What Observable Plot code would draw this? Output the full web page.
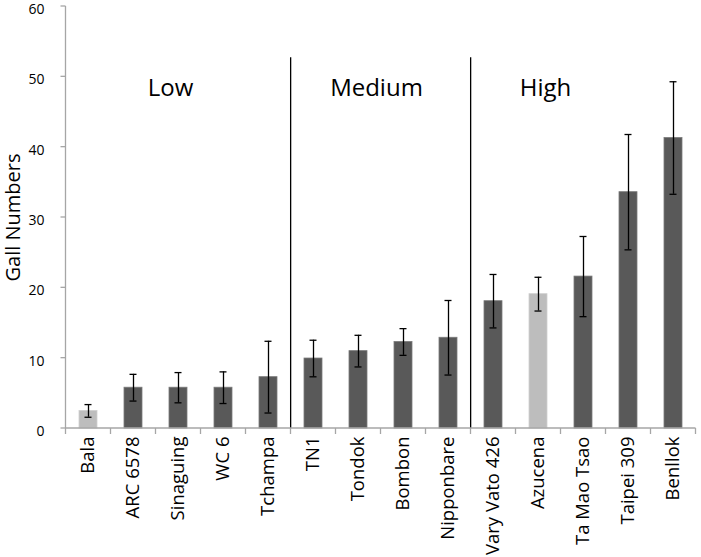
<!DOCTYPE html>
<html>
<head>
<meta charset="utf-8">
<script src="https://cdn.jsdelivr.net/npm/d3@7"></script>
<script src="https://cdn.jsdelivr.net/npm/@observablehq/plot@0.6"></script>
<style>
  html, body { margin: 0; padding: 0; background: #fff; }
  #chart svg { display: block; }
</style>
</head>
<body>
<div id="chart"></div>
<script>
const varieties = ["Bala", "ARC 6578", "Sinaguing", "WC 6", "Tchampa", "TN1", "Tondok", "Bombon", "Nipponbare", "Vary Vato 426", "Azucena", "Ta Mao Tsao", "Taipei 309", "Benllok"];
const gallMeans = [2.5, 5.8, 5.8, 5.8, 7.3, 9.95, 11.0, 12.3, 12.9, 18.1, 19.1, 21.6, 33.6, 41.3];
const gallErrors = [0.9, 1.9, 2.15, 2.25, 5.1, 2.6, 2.25, 1.9, 5.3, 3.8, 2.4, 5.7, 8.2, 8.0];
const highlighted = ["Bala", "Azucena"];
const groupNames = ["Low", "Medium", "High"];
const groupFirst = ["Bala", "TN1", "Vary Vato 426"];
const groupLabelAt = ["Sinaguing", "Tondok", "Azucena"];
const yTicks = [0, 10, 20, 30, 40, 50, 60];
const separatorTop = 52.7;
const groupLabelY = 48.3;

const data = varieties.map((name, i) => ({name, mean: gallMeans[i], err: gallErrors[i]}));
const separators = groupFirst.slice(1);

const axisColor = "#a6a6a6";

function frameAxes(index, scales, values, dims) {
  const x = scales.x;
  const step = x(varieties[1]) - x(varieties[0]);
  const bw = typeof x.bandwidth === "function" ? x.bandwidth() : step * 0.4;
  const gap = (step - bw) / 2;
  const y0 = scales.y(0);
  const yTop = scales.y(60);
  const g = d3.create("svg:g").attr("stroke", axisColor).attr("stroke-width", 1.3).attr("fill", "none");
  const left = x(varieties[0]) - gap;
  const right = x(varieties[varieties.length - 1]) + bw + gap;
  g.append("line").attr("x1", left).attr("x2", left).attr("y1", yTop).attr("y2", y0);
  g.append("line").attr("x1", left).attr("x2", right).attr("y1", y0).attr("y2", y0);
  const bounds = varieties.map(v => x(v) - gap).concat([right]);
  for (const b of bounds) {
    g.append("line").attr("x1", b).attr("x2", b).attr("y1", y0).attr("y2", y0 + 6);
  }
  for (const t of yTicks) {
    g.append("line").attr("x1", left - 5).attr("x2", left).attr("y1", scales.y(t)).attr("y2", scales.y(t));
  }
  return g.node();
}

const labelMarks = groupNames.map((g, i) =>
  Plot.text([g], {x: () => groupLabelAt[i], y: groupLabelY, text: d => d, fontSize: 24, fill: "#000", dx: [-8, 18, 7][i]})
);

const plot = Plot.plot({
  width: 701,
  height: 557,
  marginLeft: 60,
  marginRight: 1,
  marginTop: 6,
  marginBottom: 129,
  style: {fontFamily: "'Open Sans', sans-serif", color: "#000", background: "#fff", overflow: "visible"},
  x: {domain: varieties, paddingInner: 0.6, paddingOuter: 0.3, label: null},
  y: {domain: [0, 60], label: null},
  marks: [
    Plot.barY(data, {x: "name", y: "mean", fill: d => highlighted.includes(d.name) ? "#bdbdbd" : "#595959", stroke: d => highlighted.includes(d.name) ? "#d0d0d0" : "#7a7a7a", strokeWidth: 0.8}),
    Plot.ruleX(data, {x: "name", y1: d => d.mean - d.err, y2: d => d.mean + d.err, stroke: "#000", strokeWidth: 1.3}),
    Plot.tickY(data, {x: "name", y: d => d.mean + d.err, stroke: "#000", strokeWidth: 1.3, inset: 5.5}),
    Plot.tickY(data, {x: "name", y: d => d.mean - d.err, stroke: "#000", strokeWidth: 1.3, inset: 5.5}),
    Plot.ruleX(separators, {x: d => d, y1: 0, y2: separatorTop, stroke: "#000", strokeWidth: 1.3, dx: -22.86}),
    frameAxes,
    Plot.axisY({ticks: yTicks, tickSize: 0, tickPadding: 16, label: null, fontSize: 14, dy: 3}),
    Plot.axisX({tickSize: 0, tickPadding: 8, tickRotate: -90, label: null, fontSize: 18.5}),
    ...labelMarks,
    Plot.text(["Gall Numbers"], {frameAnchor: "left", textAnchor: "middle", dx: -47, rotate: -90, fontSize: 20, fill: "#000"})
  ]
});
document.getElementById("chart").appendChild(plot);
</script>
</body>
</html>
